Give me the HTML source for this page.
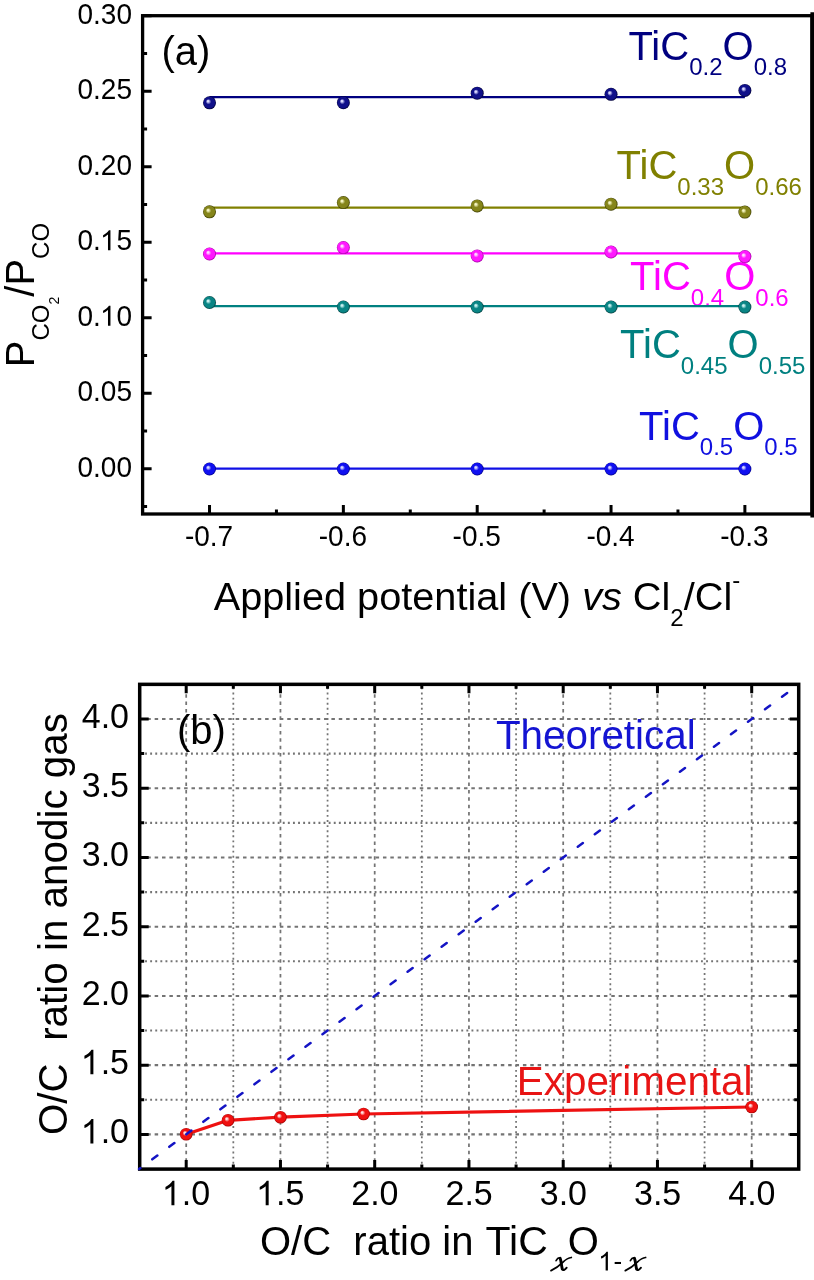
<!DOCTYPE html>
<html><head><meta charset="utf-8"><title>Figure</title>
<style>html,body{margin:0;padding:0;background:#fff;}svg{display:block;will-change:transform;} text{font-family:"Liberation Sans", sans-serif;}</style>
</head><body>
<svg width="814" height="1280" viewBox="0 0 814 1280">
<defs>
<radialGradient id="gN" cx="0.5" cy="0.5" r="0.5" fx="0.37" fy="0.36"><stop offset="0" stop-color="#d8d8ff"/><stop offset="0.12" stop-color="#d8d8ff"/><stop offset="0.42" stop-color="#10108a"/><stop offset="0.82" stop-color="#10108a"/><stop offset="1" stop-color="#000033"/></radialGradient>
<radialGradient id="gO" cx="0.5" cy="0.5" r="0.5" fx="0.37" fy="0.36"><stop offset="0" stop-color="#f4f4c0"/><stop offset="0.12" stop-color="#f4f4c0"/><stop offset="0.42" stop-color="#85851a"/><stop offset="0.82" stop-color="#85851a"/><stop offset="1" stop-color="#3a3a00"/></radialGradient>
<radialGradient id="gM" cx="0.5" cy="0.5" r="0.5" fx="0.37" fy="0.36"><stop offset="0" stop-color="#ffd8ff"/><stop offset="0.12" stop-color="#ffd8ff"/><stop offset="0.42" stop-color="#ff18ff"/><stop offset="0.82" stop-color="#ff18ff"/><stop offset="1" stop-color="#a000a0"/></radialGradient>
<radialGradient id="gT" cx="0.5" cy="0.5" r="0.5" fx="0.37" fy="0.36"><stop offset="0" stop-color="#c8f0f0"/><stop offset="0.12" stop-color="#c8f0f0"/><stop offset="0.42" stop-color="#0a8585"/><stop offset="0.82" stop-color="#0a8585"/><stop offset="1" stop-color="#003838"/></radialGradient>
<radialGradient id="gB" cx="0.5" cy="0.5" r="0.5" fx="0.37" fy="0.36"><stop offset="0" stop-color="#d8d8ff"/><stop offset="0.12" stop-color="#d8d8ff"/><stop offset="0.42" stop-color="#1010f0"/><stop offset="0.82" stop-color="#1010f0"/><stop offset="1" stop-color="#000080"/></radialGradient>
<radialGradient id="gR" cx="0.5" cy="0.5" r="0.5" fx="0.37" fy="0.36"><stop offset="0" stop-color="#ffe0e0"/><stop offset="0.12" stop-color="#ffe0e0"/><stop offset="0.42" stop-color="#f01010"/><stop offset="0.82" stop-color="#f01010"/><stop offset="1" stop-color="#a00000"/></radialGradient>
</defs>
<rect x="0" y="0" width="814" height="1280" fill="#fff"/>
<g fill="none" stroke="#000" stroke-width="3.30" stroke-linecap="square">
<rect x="142.60" y="15.70" width="669.40" height="498.30"/>
<line x1="812.2" y1="14.05" x2="812.2" y2="515.65" stroke-width="3.6"/>
</g>
<path d="M142.60 468.70h9.00M142.60 393.20h9.00M142.60 317.70h9.00M142.60 242.20h9.00M142.60 166.70h9.00M142.60 91.20h9.00M142.60 15.70h9.00M142.60 506.45h4.50M142.60 430.95h4.50M142.60 355.45h4.50M142.60 279.95h4.50M142.60 204.45h4.50M142.60 128.95h4.50M142.60 53.45h4.50M209.52 514.00v-9.00M343.36 514.00v-9.00M477.20 514.00v-9.00M611.04 514.00v-9.00M744.88 514.00v-9.00M276.44 514.00v-4.50M410.28 514.00v-4.50M544.12 514.00v-4.50M677.96 514.00v-4.50" stroke="#000" stroke-width="3" fill="none"/>
<g fill="#000" transform="translate(132.00 476.80) scale(1 1.0350)"><text x="-54.50" y="0" font-size="28">0.00</text></g>
<g fill="#000" transform="translate(132.00 401.30) scale(1 1.0350)"><text x="-54.50" y="0" font-size="28">0.05</text></g>
<g fill="#000" transform="translate(132.00 325.80) scale(1 1.0350)"><text x="-54.50" y="0" font-size="28">0.</text><path transform="translate(-31.98 0) scale(0.01367 -0.01321)" d="M763 0L583 0L583 1147Q518 1085 415 1024.5Q312 964 223 931L223 1105Q374 1176 486.5 1276.5Q599 1377 651 1472L763 1472Z"/><text x="-15.57" y="0" font-size="28">0</text></g>
<g fill="#000" transform="translate(132.00 250.30) scale(1 1.0350)"><text x="-54.50" y="0" font-size="28">0.</text><path transform="translate(-31.98 0) scale(0.01367 -0.01321)" d="M763 0L583 0L583 1147Q518 1085 415 1024.5Q312 964 223 931L223 1105Q374 1176 486.5 1276.5Q599 1377 651 1472L763 1472Z"/><text x="-15.57" y="0" font-size="28">5</text></g>
<g fill="#000" transform="translate(132.00 174.80) scale(1 1.0350)"><text x="-54.50" y="0" font-size="28">0.20</text></g>
<g fill="#000" transform="translate(132.00 99.30) scale(1 1.0350)"><text x="-54.50" y="0" font-size="28">0.25</text></g>
<g fill="#000" transform="translate(132.00 23.80) scale(1 1.0350)"><text x="-54.50" y="0" font-size="28">0.30</text></g>
<g fill="#000" transform="translate(209.02 546.20) scale(1 1.0350)"><text x="-24.12" y="0" font-size="28">-0.7</text></g>
<g fill="#000" transform="translate(342.86 546.20) scale(1 1.0350)"><text x="-24.12" y="0" font-size="28">-0.6</text></g>
<g fill="#000" transform="translate(476.70 546.20) scale(1 1.0350)"><text x="-24.12" y="0" font-size="28">-0.5</text></g>
<g fill="#000" transform="translate(610.54 546.20) scale(1 1.0350)"><text x="-24.12" y="0" font-size="28">-0.4</text></g>
<g fill="#000" transform="translate(744.38 546.20) scale(1 1.0350)"><text x="-24.12" y="0" font-size="28">-0.3</text></g>
<text x="628.40" y="59.80" font-size="40" fill="#000080">TiC<tspan font-size="24" dy="15.40">0.2</tspan><tspan dy="-15.40">O</tspan><tspan font-size="24" dy="15.40">0.8</tspan></text>
<text x="616.60" y="179.20" font-size="40" fill="#808000">TiC<tspan font-size="24" dy="15.40">0.33</tspan><tspan dy="-15.40">O</tspan><tspan font-size="24" dy="15.40">0.66</tspan></text>
<text x="630.10" y="290.40" font-size="40" fill="#ff00ff">TiC<tspan font-size="24" dy="15.40">0.4</tspan><tspan dy="-15.40">O</tspan><tspan font-size="24" dy="15.40">0.6</tspan></text>
<text x="620.10" y="358.10" font-size="40" fill="#008080">TiC<tspan font-size="24" dy="15.40">0.45</tspan><tspan dy="-15.40">O</tspan><tspan font-size="24" dy="15.40">0.55</tspan></text>
<text x="639.10" y="439.80" font-size="40" fill="#1010e0">TiC<tspan font-size="24" dy="15.40">0.5</tspan><tspan dy="-15.40">O</tspan><tspan font-size="24" dy="15.40">0.5</tspan></text>
<line x1="209.52" y1="97.10" x2="744.88" y2="97.10" stroke="#000080" stroke-width="2.2"/>
<line x1="209.52" y1="207.70" x2="744.88" y2="207.70" stroke="#808000" stroke-width="2.2"/>
<line x1="209.52" y1="253.30" x2="744.88" y2="253.30" stroke="#ff00ff" stroke-width="2.2"/>
<line x1="209.52" y1="306.10" x2="744.88" y2="306.10" stroke="#008080" stroke-width="2.2"/>
<line x1="209.52" y1="468.70" x2="744.88" y2="468.70" stroke="#1010e6" stroke-width="2.2"/>
<circle cx="209.52" cy="102.80" r="6.50" fill="url(#gN)"/>
<circle cx="343.36" cy="102.70" r="6.50" fill="url(#gN)"/>
<circle cx="477.20" cy="93.20" r="6.50" fill="url(#gN)"/>
<circle cx="611.04" cy="94.30" r="6.50" fill="url(#gN)"/>
<circle cx="744.88" cy="90.40" r="6.50" fill="url(#gN)"/>
<circle cx="209.52" cy="211.80" r="6.50" fill="url(#gO)"/>
<circle cx="343.36" cy="202.60" r="6.50" fill="url(#gO)"/>
<circle cx="477.20" cy="205.90" r="6.50" fill="url(#gO)"/>
<circle cx="611.04" cy="204.20" r="6.50" fill="url(#gO)"/>
<circle cx="744.88" cy="212.10" r="6.50" fill="url(#gO)"/>
<circle cx="209.52" cy="254.00" r="6.50" fill="url(#gM)"/>
<circle cx="343.36" cy="247.60" r="6.50" fill="url(#gM)"/>
<circle cx="477.20" cy="255.90" r="6.50" fill="url(#gM)"/>
<circle cx="611.04" cy="252.00" r="6.50" fill="url(#gM)"/>
<circle cx="744.88" cy="256.60" r="6.50" fill="url(#gM)"/>
<circle cx="209.52" cy="302.50" r="6.50" fill="url(#gT)"/>
<circle cx="343.36" cy="307.00" r="6.50" fill="url(#gT)"/>
<circle cx="477.20" cy="307.00" r="6.50" fill="url(#gT)"/>
<circle cx="611.04" cy="307.00" r="6.50" fill="url(#gT)"/>
<circle cx="744.88" cy="307.10" r="6.50" fill="url(#gT)"/>
<circle cx="209.52" cy="469.00" r="6.50" fill="url(#gB)"/>
<circle cx="343.36" cy="469.00" r="6.50" fill="url(#gB)"/>
<circle cx="477.20" cy="469.00" r="6.50" fill="url(#gB)"/>
<circle cx="611.04" cy="469.00" r="6.50" fill="url(#gB)"/>
<circle cx="744.88" cy="469.00" r="6.50" fill="url(#gB)"/>
<text x="161.5" y="64.5" font-size="40" fill="#000">(a)</text>
<text transform="translate(34.1 367.2) rotate(-90)" font-size="40" fill="#000">P<tspan font-size="24" dy="14.9">CO</tspan><tspan font-size="14" dy="10.4">2</tspan><tspan dy="-25.3">/P</tspan><tspan font-size="24" dy="14.9">CO</tspan></text>
<text x="213.7" y="610" font-size="39.7" fill="#000">Applied potential (V) <tspan font-style="italic">vs</tspan> Cl<tspan font-size="24" dy="16">2</tspan><tspan dy="-16">/Cl</tspan><tspan font-size="24" dy="-21.6">-</tspan></text>
<path d="M139.07 1134.40H798.83M139.07 1065.17H798.83M139.07 995.93H798.83M139.07 926.70H798.83M139.07 857.46H798.83M139.07 788.23H798.83M139.07 718.99H798.83" stroke="#747474" stroke-width="2.10" fill="none" stroke-dasharray="3.500 3.865" stroke-dashoffset="6.515"/>
<path d="M186.20 1169.02V684.37M280.45 1169.02V684.37M374.70 1169.02V684.37M468.95 1169.02V684.37M563.20 1169.02V684.37M657.45 1169.02V684.37M751.70 1169.02V684.37" stroke="#747474" stroke-width="1.75" fill="none" stroke-dasharray="3.500 3.865" stroke-dashoffset="0.000"/>
<path d="M139.07 1099.78H798.83M139.07 1030.55H798.83M139.07 961.31H798.83M139.07 892.08H798.83M139.07 822.84H798.83M139.07 753.61H798.83" stroke="#747474" stroke-width="2.10" fill="none" stroke-dasharray="1.900 3.200" stroke-dashoffset="4.200"/>
<path d="M233.32 1169.02V684.37M327.57 1169.02V684.37M421.82 1169.02V684.37M516.08 1169.02V684.37M610.33 1169.02V684.37M704.58 1169.02V684.37" stroke="#747474" stroke-width="1.75" fill="none" stroke-dasharray="1.900 3.200" stroke-dashoffset="4.850"/>
<text x="176.9" y="743.8" font-size="40" fill="#000">(b)</text>
<text x="495.9" y="748.6" font-size="40.4" fill="#1414d2">Theoretical</text>
<text x="516.8" y="1094.8" font-size="40.4" fill="#e81414">Experimental</text>
<polyline points="186.20,1134.30 228.05,1120.30 280.45,1117.20 363.58,1114.00 751.70,1107.00" stroke="#ee1111" stroke-width="3.2" fill="none" stroke-linejoin="round"/>
<circle cx="186.20" cy="1134.30" r="6.3" fill="url(#gR)"/>
<circle cx="228.05" cy="1120.30" r="6.3" fill="url(#gR)"/>
<circle cx="280.45" cy="1117.20" r="6.3" fill="url(#gR)"/>
<circle cx="363.58" cy="1114.00" r="6.3" fill="url(#gR)"/>
<circle cx="751.70" cy="1107.00" r="6.3" fill="url(#gR)"/>
<rect x="139.70" y="684.35" width="659.00" height="484.75" fill="none" stroke="#000" stroke-width="3.5" stroke-linecap="square"/>
<path d="M186.20 1169.10v-9.00M186.20 684.35v9.00M139.70 1134.40h9.00M798.70 1134.40h-9.00M233.32 1169.10v-4.50M233.32 684.35v4.50M139.70 1099.78h4.50M798.70 1099.78h-4.50M280.45 1169.10v-9.00M280.45 684.35v9.00M139.70 1065.17h9.00M798.70 1065.17h-9.00M327.57 1169.10v-4.50M327.57 684.35v4.50M139.70 1030.55h4.50M798.70 1030.55h-4.50M374.70 1169.10v-9.00M374.70 684.35v9.00M139.70 995.93h9.00M798.70 995.93h-9.00M421.82 1169.10v-4.50M421.82 684.35v4.50M139.70 961.31h4.50M798.70 961.31h-4.50M468.95 1169.10v-9.00M468.95 684.35v9.00M139.70 926.70h9.00M798.70 926.70h-9.00M516.08 1169.10v-4.50M516.08 684.35v4.50M139.70 892.08h4.50M798.70 892.08h-4.50M563.20 1169.10v-9.00M563.20 684.35v9.00M139.70 857.46h9.00M798.70 857.46h-9.00M610.33 1169.10v-4.50M610.33 684.35v4.50M139.70 822.84h4.50M798.70 822.84h-4.50M657.45 1169.10v-9.00M657.45 684.35v9.00M139.70 788.23h9.00M798.70 788.23h-9.00M704.58 1169.10v-4.50M704.58 684.35v4.50M139.70 753.61h4.50M798.70 753.61h-4.50M751.70 1169.10v-9.00M751.70 684.35v9.00M139.70 718.99h9.00M798.70 718.99h-9.00" stroke="#000" stroke-width="3" fill="none"/>
<line x1="139.07" y1="1169.02" x2="798.07" y2="684.93" stroke="#1414c4" stroke-width="2.5" stroke-linecap="round" stroke-dasharray="6.3 14.82" stroke-dashoffset="4.75"/>
<g fill="#000" transform="translate(129.00 1143.40) scale(1 1.0350)"><path transform="translate(-48.28 0) scale(0.01660 -0.01604)" d="M763 0L583 0L583 1147Q518 1085 415 1024.5Q312 964 223 931L223 1105Q374 1176 486.5 1276.5Q599 1377 651 1472L763 1472Z"/><text x="-28.36" y="0" font-size="34">.0</text></g>
<g fill="#000" transform="translate(129.00 1074.17) scale(1 1.0350)"><path transform="translate(-48.28 0) scale(0.01660 -0.01604)" d="M763 0L583 0L583 1147Q518 1085 415 1024.5Q312 964 223 931L223 1105Q374 1176 486.5 1276.5Q599 1377 651 1472L763 1472Z"/><text x="-28.36" y="0" font-size="34">.5</text></g>
<g fill="#000" transform="translate(129.00 1004.93) scale(1 1.0350)"><text x="-47.26" y="0" font-size="34">2.0</text></g>
<g fill="#000" transform="translate(129.00 935.70) scale(1 1.0350)"><text x="-47.26" y="0" font-size="34">2.5</text></g>
<g fill="#000" transform="translate(129.00 866.46) scale(1 1.0350)"><text x="-47.26" y="0" font-size="34">3.0</text></g>
<g fill="#000" transform="translate(129.00 797.23) scale(1 1.0350)"><text x="-47.26" y="0" font-size="34">3.5</text></g>
<g fill="#000" transform="translate(129.00 727.99) scale(1 1.0350)"><text x="-47.26" y="0" font-size="34">4.0</text></g>
<g fill="#000" transform="translate(186.40 1205.30) scale(1 1.0350)"><path transform="translate(-24.65 0) scale(0.01660 -0.01604)" d="M763 0L583 0L583 1147Q518 1085 415 1024.5Q312 964 223 931L223 1105Q374 1176 486.5 1276.5Q599 1377 651 1472L763 1472Z"/><text x="-4.72" y="0" font-size="34">.0</text></g>
<g fill="#000" transform="translate(280.65 1205.30) scale(1 1.0350)"><path transform="translate(-24.65 0) scale(0.01660 -0.01604)" d="M763 0L583 0L583 1147Q518 1085 415 1024.5Q312 964 223 931L223 1105Q374 1176 486.5 1276.5Q599 1377 651 1472L763 1472Z"/><text x="-4.72" y="0" font-size="34">.5</text></g>
<g fill="#000" transform="translate(374.90 1205.30) scale(1 1.0350)"><text x="-23.63" y="0" font-size="34">2.0</text></g>
<g fill="#000" transform="translate(469.15 1205.30) scale(1 1.0350)"><text x="-23.63" y="0" font-size="34">2.5</text></g>
<g fill="#000" transform="translate(563.40 1205.30) scale(1 1.0350)"><text x="-23.63" y="0" font-size="34">3.0</text></g>
<g fill="#000" transform="translate(657.65 1205.30) scale(1 1.0350)"><text x="-23.63" y="0" font-size="34">3.5</text></g>
<g fill="#000" transform="translate(751.90 1205.30) scale(1 1.0350)"><text x="-23.63" y="0" font-size="34">4.0</text></g>
<text transform="translate(67.3 1135.1) rotate(-90)" font-size="40.4" fill="#000" xml:space="preserve">O/C  ratio in anodic gas</text>
<text x="260" y="1255" font-size="40" fill="#000" xml:space="preserve">O/C  ratio in</text>
<text x="485.5" y="1255" font-size="41" fill="#000">TiC</text>
<text x="567.8" y="1255" font-size="40" fill="#000">O</text>
<g fill="#000" transform="translate(599.00 1270.40) scale(1 1.0000)"><path transform="translate(-0.78 0) scale(0.01270 -0.01270)" d="M763 0L583 0L583 1147Q518 1085 415 1024.5Q312 964 223 931L223 1105Q374 1176 486.5 1276.5Q599 1377 651 1472L763 1472Z"/></g>
<text x="613.4" y="1270.4" font-size="26" fill="#000">-</text>
<g transform="translate(0.00 0)" fill="none" stroke="#000" stroke-linecap="round"><path d="M556.1 1260.7C557.2 1258.7 558.9 1257.5 560.2 1258.2" stroke-width="1.7"/><path d="M560.1 1258.2C561.2 1260.5 561.4 1266 562.3 1269" stroke-width="2.9"/><path d="M562.3 1269C563.2 1271.2 565.2 1269.6 566.7 1267.7" stroke-width="1.9"/><path d="M551 1270.6C556 1268.5 560 1265.2 563 1262.2C566 1259.2 569 1257.7 571.3 1257.5" stroke-width="1.75"/></g>
<g transform="translate(74.30 0)" fill="none" stroke="#000" stroke-linecap="round"><path d="M556.1 1260.7C557.2 1258.7 558.9 1257.5 560.2 1258.2" stroke-width="1.7"/><path d="M560.1 1258.2C561.2 1260.5 561.4 1266 562.3 1269" stroke-width="2.9"/><path d="M562.3 1269C563.2 1271.2 565.2 1269.6 566.7 1267.7" stroke-width="1.9"/><path d="M551 1270.6C556 1268.5 560 1265.2 563 1262.2C566 1259.2 569 1257.7 571.3 1257.5" stroke-width="1.75"/></g>
</svg>
</body></html>
